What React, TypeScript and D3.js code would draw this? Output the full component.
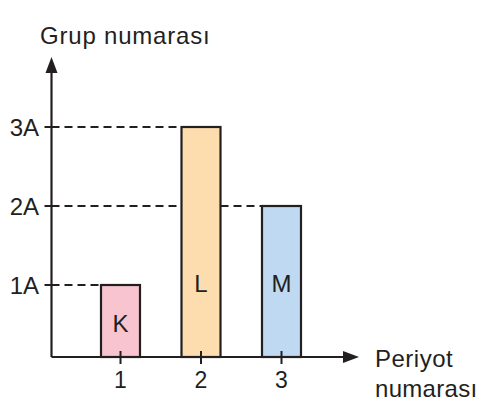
import React from "react";
import * as d3 from "d3";

const periods = [1, 2, 3];
const periodLabels = ["1", "2", "3"];
const groupTicks = [1, 2, 3];
const groupLabels = ["1A", "2A", "3A"];
const elements = ["K", "L", "M"];
const elementPeriods = [1, 2, 3];
const elementGroups = [1, 3, 2];
const elementColors = ["#f7c4cf", "#fddcad", "#bed9f1"];

const W = 496;
const H = 418;
const ink = "#231f20";
const font = "'Liberation Sans', Arial, sans-serif";

export default function App() {
  const axisX = 51.5;
  const baseY = 357;
  const x = d3.scaleLinear().domain([1, 3]).range([120.5, 281.5]);
  const y = d3.scaleLinear().domain([1, 3]).range([285, 127]);
  const barW = 39;

  return (
    <svg
      width={W}
      height={H}
      style={{ position: "absolute", left: 0, top: 0, background: "#fff" }}
      fontFamily={font}
    >
      <rect width={W} height={H} fill="#fff" />
      {elements.map((e, i) => (
        <line
          key={"d" + e}
          x1={axisX}
          x2={x(elementPeriods[i]) - barW / 2}
          y1={y(elementGroups[i])}
          y2={y(elementGroups[i])}
          stroke={ink}
          strokeWidth={2.2}
          strokeDasharray="8,5"
        />
      ))}
      {elements.map((e, i) => (
        <g key={"b" + e}>
          <rect
            x={x(elementPeriods[i]) - barW / 2}
            y={y(elementGroups[i])}
            width={barW}
            height={baseY - y(elementGroups[i])}
            fill={elementColors[i]}
            stroke={ink}
            strokeWidth={2.2}
          />
          <text
            x={x(elementPeriods[i])}
            y={elementGroups[i] === 1 ? baseY - 25 : y(1) + 7}
            textAnchor="middle"
            fontSize={24}
            fill={ink}
          >
            {e}
          </text>
        </g>
      ))}
      <line x1={axisX} x2={axisX} y1={baseY} y2={70} stroke={ink} strokeWidth={2.2} />
      <path d={`M${axisX},57 L${axisX - 6},73 L${axisX + 6},73 Z`} fill={ink} />
      <line x1={axisX} x2={346} y1={baseY} y2={baseY} stroke={ink} strokeWidth={2.2} />
      <path d={`M359,${baseY} L343,${baseY - 6} L343,${baseY + 6} Z`} fill={ink} />
      {groupTicks.map((g, i) => (
        <g key={"yt" + g}>
          <line x1={axisX - 7} x2={axisX + 6} y1={y(g)} y2={y(g)} stroke={ink} strokeWidth={2} />
          <text x={39} y={y(g) + 8.5} textAnchor="end" fontSize={24} fill={ink}>
            {groupLabels[i]}
          </text>
        </g>
      ))}
      {periods.map((p, i) => (
        <g key={"xt" + p}>
          <line x1={x(p)} x2={x(p)} y1={baseY - 6} y2={baseY + 7} stroke={ink} strokeWidth={2} />
          <text x={x(p)} y={388} textAnchor="middle" fontSize={23} fill={ink}>
            {periodLabels[i]}
          </text>
        </g>
      ))}
      <text x={40} y={44} fontSize={24} fill={ink} letterSpacing={0.8}>
        Grup numarası
      </text>
      <text x={375} y={367} fontSize={24} fill={ink} letterSpacing={0.5}>
        Periyot
      </text>
      <text x={375} y={397} fontSize={24} fill={ink} letterSpacing={0.3}>
        numarası
      </text>
    </svg>
  );
}
